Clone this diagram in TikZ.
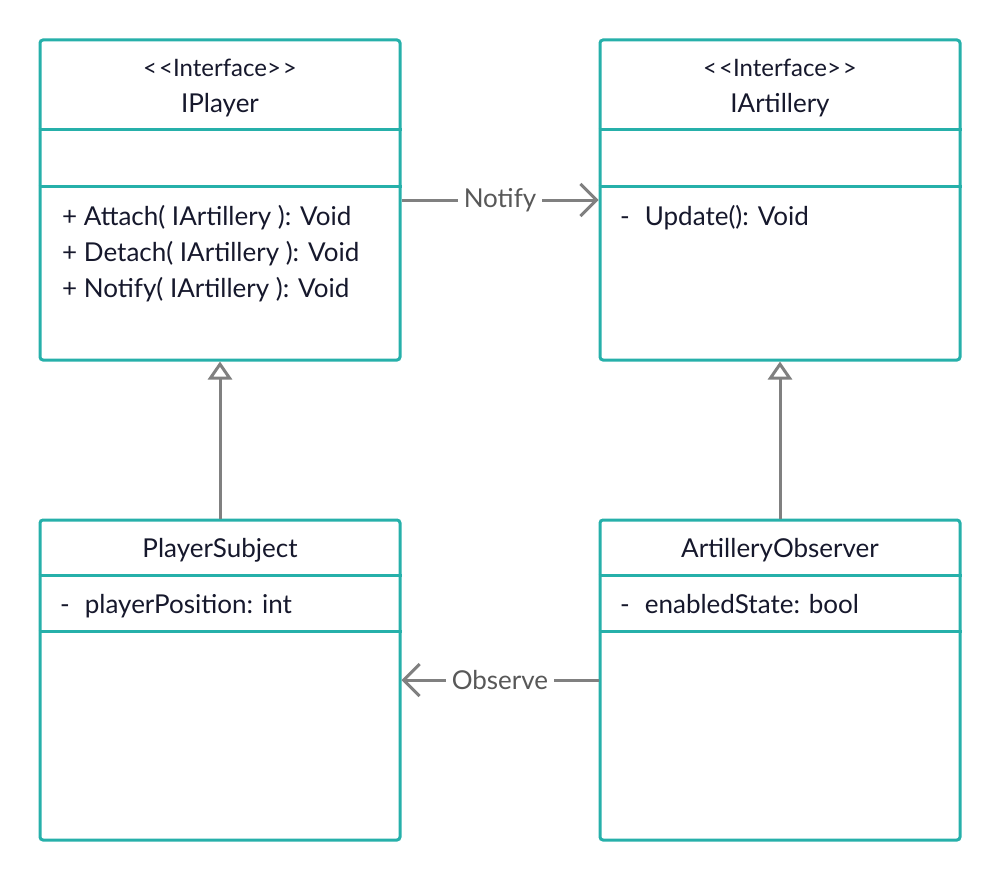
\documentclass[tikz,border=0pt]{standalone}
\usepackage{fontspec}
\setmainfont{Lato}
\usetikzlibrary{positioning,arrows.meta}
\definecolor{umlteal}{RGB}{38,176,170}
\definecolor{umlgray}{RGB}{128,128,128}
\definecolor{umltext}{RGB}{22,24,44}
\definecolor{umllabel}{RGB}{88,88,88}
\tikzset{
  classbox/.style={draw=umlteal, line width=3pt, rounded corners=3pt,
    minimum width=360pt, minimum height=320pt, inner sep=0pt},
  sepline/.style={draw=umlteal, line width=3pt},
  stereo/.style={text=umltext, font=\fontsize{24}{28}\selectfont, anchor=base, inner sep=0pt},
  classname/.style={text=umltext, font=\fontsize{26}{30}\selectfont, anchor=base, inner sep=0pt},
  member/.style={text=umltext, font=\fontsize{26}{30}\selectfont, anchor=base west, inner sep=0pt},
  assoc/.style={draw=umlgray, line width=3pt, -{Straight Barb[length=16pt,width=32pt,line width=3pt]}},
  realize/.style={draw=umlgray, line width=3pt, -{Triangle[open,length=18pt,width=24pt,fill=white,line width=3pt]}},
  linklabel/.style={text=umllabel, fill=white, font=\fontsize{26}{30}\selectfont, inner xsep=6pt}
}
\begin{document}
\begin{tikzpicture}[x=1pt,y=-1pt]
  \useasboundingbox[fill=white] (0,0) rectangle (1000,880);

  \node[classbox] (iplayer) at (220,200) {};
  \node[classbox] (iartillery) at (780,200) {};
  \node[classbox] (psubject) at (220,680) {};
  \node[classbox] (aobserver) at (780,680) {};

  \foreach \cls in {iplayer,iartillery}{
    \draw[sepline] ([yshift=-91pt]\cls.north west) -- ([yshift=-91pt]\cls.north east);
    \draw[sepline] ([yshift=-148pt]\cls.north west) -- ([yshift=-148pt]\cls.north east);
  }
  \foreach \cls in {psubject,aobserver}{
    \draw[sepline] ([yshift=-57pt]\cls.north west) -- ([yshift=-57pt]\cls.north east);
    \draw[sepline] ([yshift=-113pt]\cls.north west) -- ([yshift=-113pt]\cls.north east);
  }

  \node[stereo] (iplayer-st) at (220,77) {<\kern2pt<Interface>\kern2pt>};
  \node[classname] (iplayer-nm) at (220,113) {IPlayer};
  \node[member] (attach) at (62,225) {+ Attach( IArtillery ): Void};
  \node[member] (detach) at (62,261) {+ Detach( IArtillery ): Void};
  \node[member] (notify) at (62,297) {+ Notify( IArtillery ): Void};

  \node[stereo] (iartillery-st) at (780,77) {<\kern2pt<Interface>\kern2pt>};
  \node[classname] (iartillery-nm) at (780,113) {IArtillery};
  \node[member] (update) at (620,225) {-\hspace{15pt}Update(): Void};

  \node[classname] (psubject-nm) at (220,557) {PlayerSubject};
  \node[member] (ppos) at (60,613) {-\hspace{15pt}playerPosition: int};

  \node[classname] (aobserver-nm) at (780,557) {ArtilleryObserver};
  \node[member] (estate) at (620,613) {-\hspace{15pt}enabledState: bool};

  \draw[assoc] (iplayer.east) -- node[linklabel] {Notify} (iartillery.west);
  \draw[assoc] (aobserver.west) -- node[linklabel] {Observe} (psubject.east);
  \draw[realize] (psubject.north) -- (iplayer.south);
  \draw[realize] (aobserver.north) -- (iartillery.south);
\end{tikzpicture}
\end{document}
